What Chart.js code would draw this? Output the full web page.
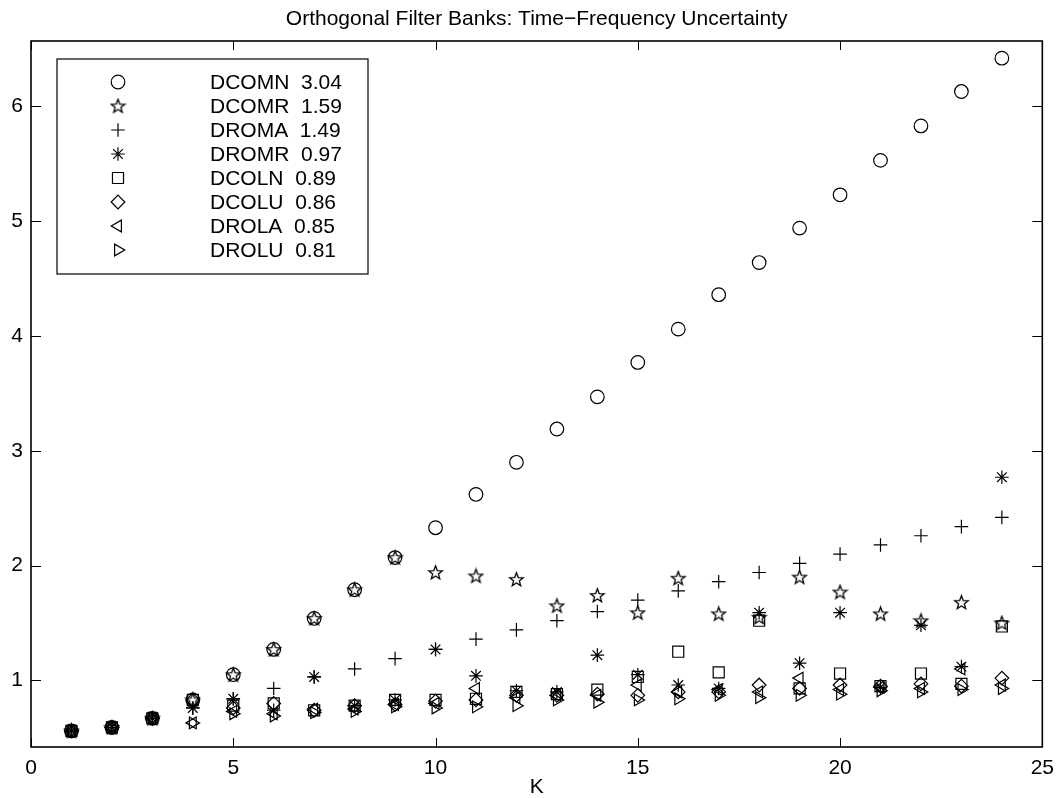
<!DOCTYPE html>
<html>
<head>
<meta charset="utf-8">
<script src="https://cdn.jsdelivr.net/npm/chart.js@4.4.1/dist/chart.umd.min.js"></script>
<style>
  html, body { margin: 0; padding: 0; background: #fff; }
  #wrap { width: 1063px; height: 798px; }
</style>
</head>
<body>
<div id="wrap"><canvas id="uncChart" width="1063" height="798"></canvas></div>
<script>
// values
const kValues = [1, 2, 3, 4, 5, 6, 7, 8, 9, 10, 11, 12, 13, 14, 15, 16, 17, 18, 19, 20, 21, 22, 23, 24];
const dcomn = [0.56, 0.59, 0.67, 0.83, 1.05, 1.27, 1.54, 1.79, 2.07, 2.33, 2.62, 2.90, 3.19, 3.47, 3.77, 4.06, 4.36, 4.64, 4.94, 5.23, 5.53, 5.83, 6.13, 6.42];
const dcomr = [0.56, 0.59, 0.67, 0.83, 1.05, 1.27, 1.54, 1.79, 2.07, 1.94, 1.91, 1.88, 1.65, 1.74, 1.59, 1.89, 1.58, 1.55, 1.90, 1.77, 1.58, 1.52, 1.68, 1.50];
const droma = [0.56, 0.59, 0.67, 0.76, 0.84, 0.93, 1.03, 1.10, 1.19, 1.27, 1.36, 1.44, 1.52, 1.60, 1.70, 1.78, 1.86, 1.94, 2.02, 2.10, 2.18, 2.26, 2.34, 2.42];
const dromr = [0.56, 0.59, 0.67, 0.76, 0.84, 0.74, 1.03, 0.78, 0.83, 1.27, 1.04, 0.91, 0.90, 1.22, 1.05, 0.96, 0.93, 1.59, 1.15, 1.59, 0.94, 1.48, 1.12, 2.77];
const dcoln = [0.56, 0.59, 0.67, 0.83, 0.78, 0.80, 0.74, 0.78, 0.83, 0.83, 0.84, 0.90, 0.88, 0.92, 1.03, 1.25, 1.07, 1.52, 0.93, 1.06, 0.95, 1.06, 0.97, 1.47];
const dcolu = [0.56, 0.59, 0.67, 0.83, 0.76, 0.80, 0.74, 0.78, 0.79, 0.82, 0.83, 0.87, 0.87, 0.88, 0.87, 0.90, 0.90, 0.96, 0.93, 0.96, 0.95, 0.97, 0.95, 1.02];
const drola = [0.56, 0.59, 0.67, 0.63, 0.73, 0.71, 0.75, 0.75, 0.79, 0.80, 0.93, 0.85, 0.87, 0.87, 0.96, 0.90, 0.92, 0.90, 1.02, 0.92, 0.94, 0.93, 1.10, 0.96];
const drolu = [0.56, 0.59, 0.67, 0.63, 0.71, 0.69, 0.72, 0.73, 0.77, 0.76, 0.77, 0.78, 0.83, 0.81, 0.83, 0.84, 0.87, 0.85, 0.87, 0.88, 0.91, 0.90, 0.92, 0.93];

const seriesNames = ["DCOMN", "DCOMR", "DROMA", "DROMR", "DCOLN", "DCOLU", "DROLA", "DROLU"];
const legendScores = ["3.04", "1.59", "1.49", "0.97", "0.89", "0.86", "0.85", "0.81"];
const xTicks = [0, 5, 10, 15, 20, 25];
const yTicks = [1, 2, 3, 4, 5, 6];

const FONT = "'Liberation Sans', Arial, Helvetica, sans-serif";
const FS = 21;

// pentagram outline marker (matlab 'p')
function makePentagram() {
  const c = document.createElement("canvas");
  c.width = 17; c.height = 17;
  const g = c.getContext("2d");
  g.strokeStyle = "#000";
  g.lineWidth = 1.3;
  g.lineJoin = "miter";
  g.beginPath();
  for (let i = 0; i < 10; i++) {
    const r = i % 2 === 0 ? 7.2 : 3;
    const a = -Math.PI / 2 + i * Math.PI / 5;
    const px = 8.5 + r * Math.cos(a), py = 9 + r * Math.sin(a);
    if (i === 0) g.moveTo(px, py); else g.lineTo(px, py);
  }
  g.closePath();
  g.stroke();
  return c;
}
const pentagram = makePentagram();

const allSeries = [dcomn, dcomr, droma, dromr, dcoln, dcolu, drola, drolu];
const markerStyles = [
  { pointStyle: "circle", radius: 6.8, rotation: 0 },
  { pointStyle: pentagram, radius: 7, rotation: 0 },
  { pointStyle: "cross", radius: 6.8, rotation: 0 },
  { pointStyle: "star", radius: 6.8, rotation: 0 },
  { pointStyle: "rect", radius: 7.8, rotation: 0 },
  { pointStyle: "rectRot", radius: 6.8, rotation: 0 },
  { pointStyle: "triangle", radius: 6.8, rotation: -90 },
  { pointStyle: "triangle", radius: 6.8, rotation: 90 },
];

const datasets = allSeries.map((vals, i) => ({
  label: seriesNames[i],
  data: kValues.map((k, j) => ({ x: k, y: vals[j] })),
  showLine: false,
  pointStyle: markerStyles[i].pointStyle,
  pointRadius: markerStyles[i].radius,
  pointRotation: markerStyles[i].rotation,
  pointBorderColor: "#000",
  pointBackgroundColor: "rgba(0,0,0,0)",
  pointBorderWidth: 1.2,
}));

// box, inward ticks on all four sides, title and legend inside the axes
const matlabAxes = {
  id: "matlabAxes",
  afterDraw(chart) {
    const { ctx, chartArea: a } = chart;
    const xs = chart.scales.x, ys = chart.scales.y;
    ctx.save();
    ctx.strokeStyle = "#000";
    ctx.lineWidth = 1;
    ctx.beginPath();
    xTicks.forEach(v => {
      const px = Math.round(xs.getPixelForValue(v)) + 0.5;
      ctx.moveTo(px, a.bottom); ctx.lineTo(px, a.bottom - 9);
      ctx.moveTo(px, a.top); ctx.lineTo(px, a.top + 9);
    });
    yTicks.forEach(v => {
      const py = Math.round(ys.getPixelForValue(v)) + 0.5;
      ctx.moveTo(a.left, py); ctx.lineTo(a.left + 10, py);
      ctx.moveTo(a.right, py); ctx.lineTo(a.right - 10, py);
    });
    ctx.stroke();
    ctx.lineWidth = 1.6;
    ctx.strokeRect(a.left, a.top, a.right - a.left, a.bottom - a.top);

    // title
    ctx.fillStyle = "#000";
    ctx.font = FS + "px " + FONT;
    ctx.textAlign = "center";
    ctx.textBaseline = "alphabetic";
    ctx.fillText("Orthogonal Filter Banks: Time\u2212Frequency Uncertainty", (a.left + a.right) / 2, 25);

    // legend
    const bx = 57, by = 59, bw = 311, bh = 215;
    ctx.fillStyle = "#fff";
    ctx.fillRect(bx, by, bw, bh);
    ctx.lineWidth = 1.2;
    ctx.strokeStyle = "#000";
    ctx.strokeRect(bx, by, bw, bh);
    ctx.textAlign = "left";
    ctx.textBaseline = "middle";
    seriesNames.forEach((name, i) => {
      const yy = 82 + i * 24;
      ctx.save();
      ctx.strokeStyle = "#000";
      ctx.fillStyle = "rgba(0,0,0,0)";
      Chart.helpers.drawPoint(ctx, {
        pointStyle: markerStyles[i].pointStyle,
        radius: markerStyles[i].radius,
        rotation: markerStyles[i].rotation,
        borderWidth: 1.2,
      }, 118, yy);
      ctx.restore();
      ctx.fillStyle = "#000";
      ctx.font = FS + "px " + FONT;
      ctx.fillText(name + "  " + legendScores[i], 210, yy + 1);
    });
    ctx.restore();
  },
};

const ctx = document.getElementById("uncChart").getContext("2d");
new Chart(ctx, {
  type: "scatter",
  data: { datasets },
  options: {
    responsive: false,
    animation: false,
    devicePixelRatio: 1,
    layout: { padding: { left: 0, right: 17, top: 41, bottom: 0 } },
    plugins: {
      legend: { display: false },
      tooltip: { enabled: false },
    },
    scales: {
      x: {
        type: "linear",
        min: 0,
        max: 25,
        afterBuildTicks: s => { s.ticks = xTicks.map(v => ({ value: v })); },
        afterFit: s => { s.height = 51; },
        grid: { display: false, drawTicks: false },
        border: { display: false },
        ticks: { color: "#000", padding: 9, font: { family: FONT, size: FS } },
        title: { display: true, text: "K", color: "#000", padding: { top: 0, bottom: -2 }, font: { family: FONT, size: FS } },
      },
      y: {
        type: "linear",
        min: 0.42,
        max: 6.57,
        afterBuildTicks: s => { s.ticks = yTicks.map(v => ({ value: v })); },
        afterFit: s => { s.width = 31; },
        grid: { display: false, drawTicks: false },
        border: { display: false },
        ticks: { color: "#000", padding: 8, font: { family: FONT, size: FS } },
      },
    },
  },
  plugins: [matlabAxes],
});
</script>
</body>
</html>
